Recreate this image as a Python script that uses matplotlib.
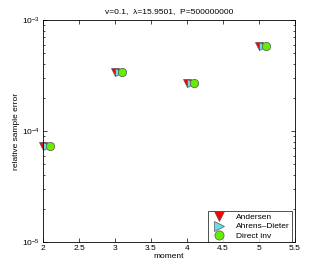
import matplotlib
matplotlib.use("Agg")
import matplotlib.pyplot as plt
from matplotlib.ticker import LogLocator, NullFormatter

moments = [2, 3, 4, 5]
offsets = [0.0, 0.05, 0.1]
andersen = [7.4e-5, 3.4e-4, 2.7e-4, 5.85e-4]
ahrens = [7.3e-5, 3.38e-4, 2.69e-4, 5.8e-4]
direct = [7.3e-5, 3.38e-4, 2.69e-4, 5.8e-4]
labels = ["Andersen", "Ahrens\u2013Dieter", "Direct inv"]

plt.rcParams['font.family'] = ['Liberation Sans', 'DejaVu Sans']
fig = plt.figure(figsize=(3.27, 2.73), dpi=100)
ax = fig.add_axes([43/327, 31/273, 252/327, 222/273])

series = [andersen, ahrens, direct]
markers = ['v', '>', 'o']
colors = ['#ff0000', '#66e0e0', '#66ee00']
for s, m, c, o, lab in zip(series, markers, colors, offsets, labels):
    ax.semilogy([x + o for x in moments], s, linestyle='none', marker=m,
                markerfacecolor=c, markeredgecolor='#555555', markeredgewidth=0.5,
                markersize=6, label=lab, clip_on=False)

ax.set_xlim(2, 5.5)
ax.set_ylim(1e-5, 1e-3)
ax.set_xticks([2, 2.5, 3, 3.5, 4, 4.5, 5, 5.5])
ax.set_xticklabels(['2', '2.5', '3', '3.5', '4', '4.5', '5', '5.5'])
ax.yaxis.set_minor_locator(LogLocator(base=10, subs=range(2, 10)))
ax.yaxis.set_minor_formatter(NullFormatter())
ax.tick_params(which='both', direction='in', top=True, right=True, labelsize=6, pad=2)
ax.tick_params(which='major', length=3, width=0.5)
ax.tick_params(which='minor', length=1.5, width=0.5)
for sp in ax.spines.values():
    sp.set_linewidth(0.6)

ax.set_xlabel('moment', fontsize=6, labelpad=1)
ax.set_ylabel('relative sample error', fontsize=6, labelpad=2)
ax.set_title('v=0.1,  \u03bb=15.9501,  P=500000000', fontsize=6, pad=5)

leg = ax.legend(loc='lower right', bbox_to_anchor=(1 - 3/252, 0), fontsize=6,
                frameon=True, fancybox=False,
                edgecolor='black', borderaxespad=0.0, handletextpad=1.0,
                borderpad=0.3, labelspacing=0.15, markerscale=1.1,
                handlelength=2.0)
leg.get_frame().set_linewidth(0.6)

fig.savefig('out.png', dpi=100)
